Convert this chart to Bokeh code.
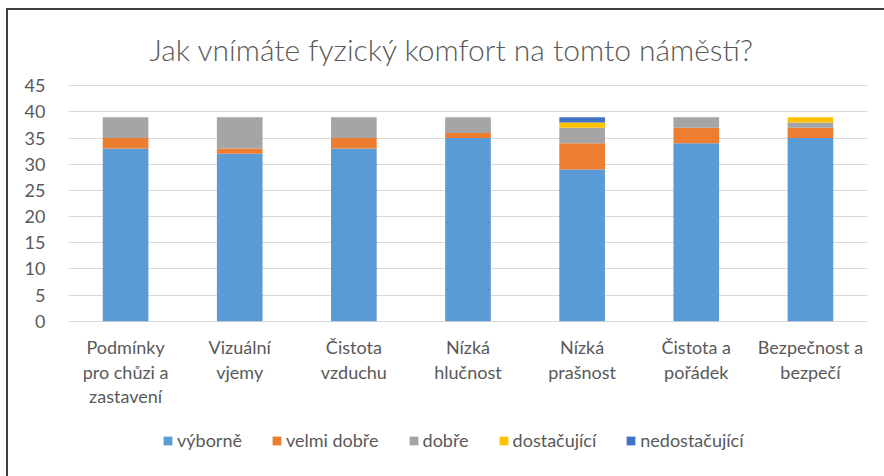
from bokeh.plotting import figure
from bokeh.models import Legend, LegendItem, Label, Range1d, ColumnDataSource
from bokeh.core.properties import value
from bokeh.embed import file_html
from bokeh.resources import INLINE

# ---- data ----
categories = [
    "Podmínky\npro chůzi a\nzastavení",
    "Vizuální\nvjemy",
    "Čistota\nvzduchu",
    "Nízká\nhlučnost",
    "Nízká\nprašnost",
    "Čistota a\npořádek",
    "Bezpečnost a\nbezpečí",
]
series_names = ["výborně", "velmi dobře", "dobře", "dostačující", "nedostačující"]
vyborne = [33, 32, 33, 35, 29, 34, 35]
velmi_dobre = [2, 1, 2, 1, 5, 3, 2]
dobre = [4, 6, 4, 3, 3, 2, 1]
dostacujici = [0, 0, 0, 0, 1, 0, 1]
nedostacujici = [0, 0, 0, 0, 1, 0, 0]
colors = ["#5b9bd5", "#ed7d31", "#a5a5a5", "#ffc000", "#4472c4"]
y_ticks = [0, 5, 10, 15, 20, 25, 30, 35, 40, 45]
title_text = "Jak vnímáte fyzický komfort na tomto náměstí?"

FONT = "Lato"
TEXT_COLOR = "#595959"

keys = ["s0", "s1", "s2", "s3", "s4"]
data = {"cat": categories}
for k, vals in zip(keys, [vyborne, velmi_dobre, dobre, dostacujici, nedostacujici]):
    data[k] = vals
source = ColumnDataSource(data)

# frame spans the full height; value axis 0..45 sits in the middle band
p = figure(
    width=884, height=476,
    x_range=categories, y_range=Range1d(-29.69, 61.31),
    x_axis_location=None,
    output_backend="svg", toolbar_location=None,
    min_border_left=68, min_border_right=17,
    min_border_top=0, min_border_bottom=0,
)
p.border_fill_alpha = 0
p.background_fill_alpha = 0
p.outline_line_color = None
p.styles = {
    "background": (
        "linear-gradient(#404040, #404040) 6px 8px / 2px 468px no-repeat, "
        "linear-gradient(#404040, #404040) 6px 8px / 878px 2px no-repeat, #ffffff"
    )
}

renderers = p.vbar_stack(keys, x="cat", width=0.4, color=colors, source=source, line_color=None)

# y axis
p.yaxis.ticker = y_ticks
p.yaxis.axis_line_color = None
p.yaxis.major_tick_line_color = None
p.yaxis.minor_tick_line_color = None
p.yaxis.major_label_standoff = 17
p.yaxis.major_label_text_font = FONT
p.yaxis.major_label_text_font_size = "18px"
p.yaxis.major_label_text_color = TEXT_COLOR

p.xgrid.grid_line_color = None
p.ygrid.grid_line_color = "#d9d9d9"
p.ygrid.grid_line_width = 1

# category labels under the value axis
p.text(
    x="cat", y=0, text="cat", source=source,
    x_offset=0, y_offset=15,
    text_align="center", text_baseline="top",
    text_font=value(FONT), text_font_size="18px", text_color=TEXT_COLOR,
    text_line_height=1.11,
)

# title
title = Label(
    x=383.5, y=428, x_units="screen", y_units="screen",
    text=title_text, text_align="center", text_baseline="alphabetic",
    text_font="Lato Light", text_font_size="30px", text_color=TEXT_COLOR,
)
p.add_layout(title)

# legend
items = [LegendItem(label=n, renderers=[r]) for n, r in zip(series_names, renderers)]
legend = Legend(
    items=items, orientation="horizontal", location=(94, 25),
    glyph_width=11, glyph_height=11, label_standoff=4, spacing=29,
    padding=0, margin=0, border_line_color=None, background_fill_alpha=0,
    label_text_font=FONT, label_text_font_size="18px", label_text_color=TEXT_COLOR,
    label_height=20,
)
p.add_layout(legend)

open("out.html", "w").write(file_html(p, INLINE))
